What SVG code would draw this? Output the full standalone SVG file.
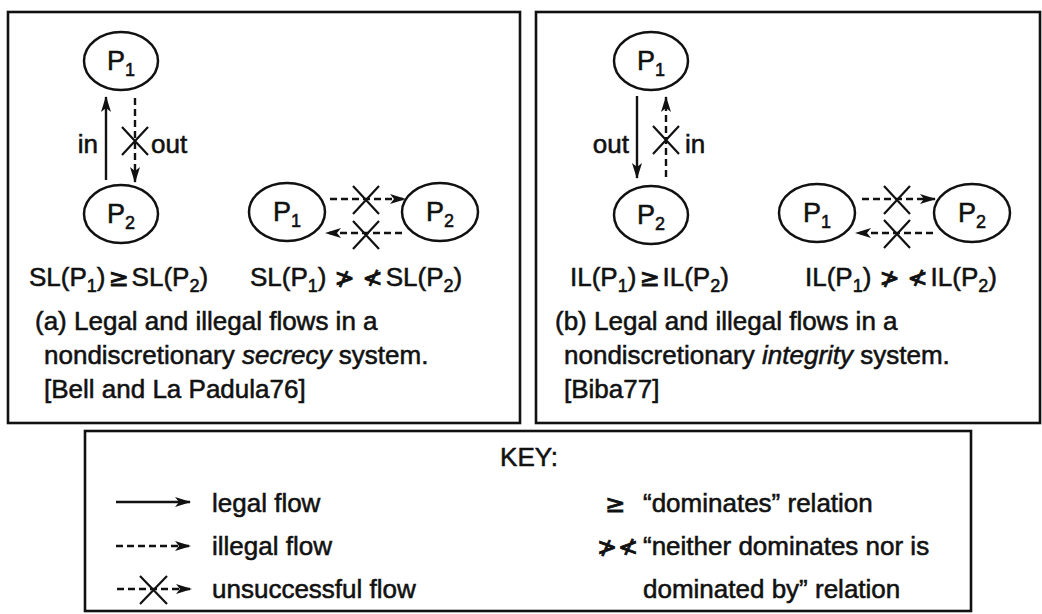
<svg xmlns="http://www.w3.org/2000/svg" width="1042" height="614" viewBox="0 0 1042 614">
<style>
text{font-family:"Liberation Sans",Arial,Helvetica,sans-serif;fill:#111;font-size:26px;stroke:#111;stroke-width:0.55}
.box{fill:none;stroke:#111;stroke-width:2.6}
.node{fill:#fff;stroke:#111;stroke-width:2.5}
.nl{text-anchor:middle;font-size:27px}
.sub{font-size:18px}
.rel{font-family:"DejaVu Sans",sans-serif;font-size:24px;stroke-width:0.9}
.solid{stroke:#111;stroke-width:2.4;fill:none}
.dash{stroke:#111;stroke-width:2.4;fill:none;stroke-dasharray:7 4}
.x{stroke:#111;stroke-width:2.2;fill:none}
</style>
<defs>
<marker id="ah" viewBox="0 0 16 10" refX="15" refY="5" markerWidth="16" markerHeight="10" markerUnits="userSpaceOnUse" orient="auto">
<path d="M0,0 L16,5 L0,10 L4,5 z" fill="#111"/>
</marker>
</defs>
<rect fill="#fff" x="0" y="0" width="1042" height="614"/>

<g id="panel-a">
<rect class="box" x="8" y="12" width="512" height="411"/>
<text x="29" y="286">SL(P<tspan class="sub" dy="6">1</tspan><tspan dy="-6">)</tspan><tspan class="rel" dx="3">≥</tspan><tspan dx="3">SL(P</tspan><tspan class="sub" dy="6">2</tspan><tspan dy="-6">)</tspan></text>
<text x="250" y="286">SL(P<tspan class="sub" dy="6">1</tspan><tspan dy="-6">)</tspan><tspan class="rel" dx="8">≯</tspan><tspan class="rel" dx="8">≮</tspan><tspan dx="3">SL(P</tspan><tspan class="sub" dy="6">2</tspan><tspan dy="-6">)</tspan></text>
<text x="35" y="330" font-size="26.5">(a) Legal and illegal flows in a</text>
<text x="44" y="364" font-size="26.5">nondiscretionary <tspan font-style="italic">secrecy</tspan> system.</text>
<text x="44" y="398" font-size="26.5">[Bell and La Padula76]</text>
</g>

<g id="panel-b">
<rect class="box" x="536" y="12" width="504" height="411"/>
<text x="570" y="286">IL(P<tspan class="sub" dy="6">1</tspan><tspan dy="-6">)</tspan><tspan class="rel" dx="3">≥</tspan><tspan dx="3">IL(P</tspan><tspan class="sub" dy="6">2</tspan><tspan dy="-6">)</tspan></text>
<text x="805" y="286">IL(P<tspan class="sub" dy="6">1</tspan><tspan dy="-6">)</tspan><tspan class="rel" dx="8">≯</tspan><tspan class="rel" dx="8">≮</tspan><tspan dx="3">IL(P</tspan><tspan class="sub" dy="6">2</tspan><tspan dy="-6">)</tspan></text>
<text x="555" y="330" font-size="26.5">(b) Legal and illegal flows in a</text>
<text x="564" y="364" font-size="26.5">nondiscretionary <tspan font-style="italic">integrity</tspan> system.</text>
<text x="564" y="398" font-size="26.5">[Biba77]</text>
</g>

<g id="a-P1"><ellipse class="node" cx="121" cy="61" rx="37" ry="29"/><text class="nl" x="121" y="70">P<tspan class="sub" dy="6">1</tspan></text></g>
<g id="a-P2"><ellipse class="node" cx="121" cy="214" rx="37" ry="29"/><text class="nl" x="121" y="223">P<tspan class="sub" dy="6">2</tspan></text></g>
<g id="a-P1h"><ellipse class="node" cx="287" cy="212" rx="38" ry="29"/><text class="nl" x="287" y="221">P<tspan class="sub" dy="6">1</tspan></text></g>
<g id="a-P2h"><ellipse class="node" cx="440" cy="212" rx="38" ry="29"/><text class="nl" x="440" y="221">P<tspan class="sub" dy="6">2</tspan></text></g>

<g id="b-P1"><ellipse class="node" cx="651" cy="61" rx="37" ry="29"/><text class="nl" x="651" y="70">P<tspan class="sub" dy="6">1</tspan></text></g>
<g id="b-P2"><ellipse class="node" cx="651" cy="215" rx="37" ry="29"/><text class="nl" x="651" y="224">P<tspan class="sub" dy="6">2</tspan></text></g>
<g id="b-P1h"><ellipse class="node" cx="817" cy="213" rx="38" ry="29"/><text class="nl" x="817" y="222">P<tspan class="sub" dy="6">1</tspan></text></g>
<g id="b-P2h"><ellipse class="node" cx="972" cy="213" rx="38" ry="29"/><text class="nl" x="972" y="222">P<tspan class="sub" dy="6">2</tspan></text></g>

<g id="connectors">
<line class="solid" x1="106" y1="180" x2="106" y2="97" marker-end="url(#ah)"/>
<line class="dash" x1="135" y1="98" x2="135" y2="182" marker-end="url(#ah)"/>
<path class="x" d="M122,127 L148,155 M148,127 L122,155"/>
<text x="98" y="153" text-anchor="end">in</text>
<text x="151" y="153">out</text>
<line class="dash" x1="330" y1="199" x2="405" y2="199" marker-end="url(#ah)"/>
<path class="x" d="M353,186 L379,214 M379,186 L353,214"/>
<line class="dash" x1="402" y1="233" x2="326" y2="233" marker-end="url(#ah)"/>
<path class="x" d="M353,221 L379,249 M379,221 L353,249"/>
<line class="solid" x1="637" y1="96" x2="637" y2="178" marker-end="url(#ah)"/>
<line class="dash" x1="666" y1="177" x2="666" y2="97" marker-end="url(#ah)"/>
<path class="x" d="M653,126 L679,154 M679,126 L653,154"/>
<text x="629" y="153" text-anchor="end">out</text>
<text x="685" y="153">in</text>
<line class="dash" x1="862" y1="199" x2="935" y2="199" marker-end="url(#ah)"/>
<path class="x" d="M884,186 L910,214 M910,186 L884,214"/>
<line class="dash" x1="933" y1="233" x2="856" y2="233" marker-end="url(#ah)"/>
<path class="x" d="M884,220 L910,248 M910,220 L884,248"/>
</g>

<g id="key">
<rect class="box" x="85" y="431" width="886" height="180"/>
<text x="529" y="466" text-anchor="middle">KEY:</text>
<line class="solid" x1="116" y1="502" x2="190" y2="502" marker-end="url(#ah)"/>
<text x="212" y="512">legal flow</text>
<line class="dash" x1="116" y1="546" x2="190" y2="546" marker-end="url(#ah)"/>
<text x="212" y="555">illegal flow</text>
<line class="dash" x1="117" y1="589" x2="191" y2="589" marker-end="url(#ah)"/>
<path class="x" d="M140,576 L167,604 M167,576 L140,604"/>
<text x="212" y="598">unsuccessful flow</text>
<text class="rel" x="605" y="512" font-size="22">≥</text>
<text x="643" y="512">“dominates” relation</text>
<text class="rel" x="597" y="555" font-size="21">≯<tspan dx="1">≮</tspan></text>
<text x="643" y="555">“neither dominates nor is</text>
<text x="643" y="598">dominated by” relation</text>
</g>
</svg>
